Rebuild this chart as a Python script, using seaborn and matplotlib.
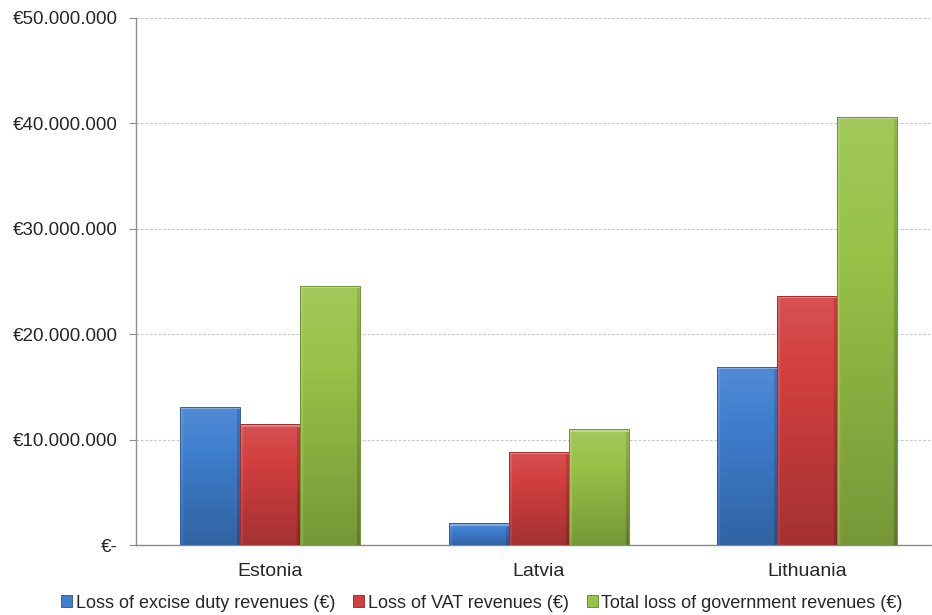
import numpy as np
import pandas as pd
import matplotlib
matplotlib.use("Agg")
import matplotlib.pyplot as plt
from matplotlib.colors import to_rgb
from matplotlib.patches import Patch
from matplotlib.ticker import FuncFormatter
import seaborn as sns

countries = ["Estonia", "Latvia", "Lithuania"]
series = [
    "Loss of excise duty revenues (€)",
    "Loss of VAT revenues (€)",
    "Total loss of government revenues (€)",
]
excise_loss = [13_100_000, 2_050_000, 16_900_000]
vat_loss = [11_450_000, 8_850_000, 23_650_000]
total_loss = [24_600_000, 10_980_000, 40_600_000]

palette = ["#3f7fcf", "#d23f3f", "#98c248"]

df = pd.DataFrame({
    "country": countries * 3,
    "series": [s for s in series for _ in countries],
    "value": excise_loss + vat_loss + total_loss,
})

sns.set_style("white")
plt.rcParams["font.family"] = ["Liberation Sans", "DejaVu Sans"]
plt.rcParams["font.size"] = 13

fig = plt.figure(figsize=(9.32, 6.15), dpi=100)
ax = fig.add_axes([136 / 932, 1 - 545 / 615, 805.5 / 932, 527 / 615])

sns.barplot(data=df, x="country", y="value", hue="series", order=countries,
            hue_order=series, palette=palette, width=0.67, saturation=1,
            legend=False, ax=ax, zorder=3)


def shade(rgb, f):
    rgb = np.array(rgb)
    if f >= 0:
        return rgb + (1 - rgb) * f
    return rgb * (1 + f)


# Excel-style bevelled gradient on each bar
for i, bar in enumerate(ax.patches):
    base = to_rgb(palette[i // len(countries)])
    x0, y0 = bar.get_x(), bar.get_y()
    w, h = bar.get_width(), bar.get_height()
    if h <= 0:
        continue
    ny, nx = 200, 40
    yy = np.linspace(0, 1, ny)[:, None]      # 0 top, 1 bottom
    xx = np.linspace(0, 1, nx)[None, :]
    vert = 0.10 - 0.32 * yy
    edge = np.where(xx < 0.04, 0.12, 0.0) - np.where(xx > 0.95, 0.15, 0.0)
    f = vert + edge
    img = np.empty((ny, nx, 3))
    for c in range(3):
        ch = base[c]
        img[..., c] = np.where(f >= 0, ch + (1 - ch) * f, ch * (1 + f))
    img = np.clip(img, 0, 1)
    im = ax.imshow(img, extent=[x0, x0 + w, y0, y0 + h], aspect="auto",
                   origin="upper", zorder=3.5, interpolation="bilinear")
    im.set_clip_path(bar)
    # light top bevel
    ax.fill_between([x0, x0 + w], y0 + h - 0.22e6, y0 + h,
                    color=shade(base, 0.35), zorder=3.6, linewidth=0)
    bar.set_edgecolor(shade(base, -0.25))
    bar.set_linewidth(0.7)
    bar.set_zorder(3.7)
    bar.set_facecolor("none")

ax.set_xlim(-0.5, 2.5)
ax.set_ylim(0, 50_000_000)
ax.set_yticks(np.arange(0, 50_000_001, 10_000_000))


def euro(v, pos):
    if v == 0:
        return "€-"
    return "€" + f"{int(v):,}".replace(",", ".")


ax.yaxis.set_major_formatter(FuncFormatter(euro))
ax.grid(axis="y", color="#c8c8c8", linestyle=(0, (2.5, 1.5)), linewidth=0.8, zorder=0)
ax.set_axisbelow(True)

for side in ["top", "right"]:
    ax.spines[side].set_visible(False)
for side in ["left", "bottom"]:
    ax.spines[side].set_color("#8c8c8c")
    ax.spines[side].set_linewidth(1.0)

ax.set_xticks([-0.5, 0.5, 1.5, 2.5], minor=True)
ax.tick_params(axis="x", which="major", length=0, pad=13, labelsize=14)
ax.tick_params(axis="x", which="minor", length=5, color="#8c8c8c", direction="out")
ax.tick_params(axis="y", length=5, color="#8c8c8c", direction="out", pad=8,
               labelsize=13.5, left=True)
ax.set_xlabel("")
ax.set_ylabel("")

handles = [Patch(facecolor=c, edgecolor=shade(to_rgb(c), -0.35), linewidth=0.6)
           for c in palette]
fig.legend(handles, series, loc="center", bbox_to_anchor=(482 / 932, 1 - 603 / 615),
           ncol=3, frameon=False, fontsize=13, handlelength=0.6,
           handleheight=0.6, handletextpad=0.2, columnspacing=1.0,
           borderpad=0, borderaxespad=0)

fig.savefig("out.png", dpi=100)
